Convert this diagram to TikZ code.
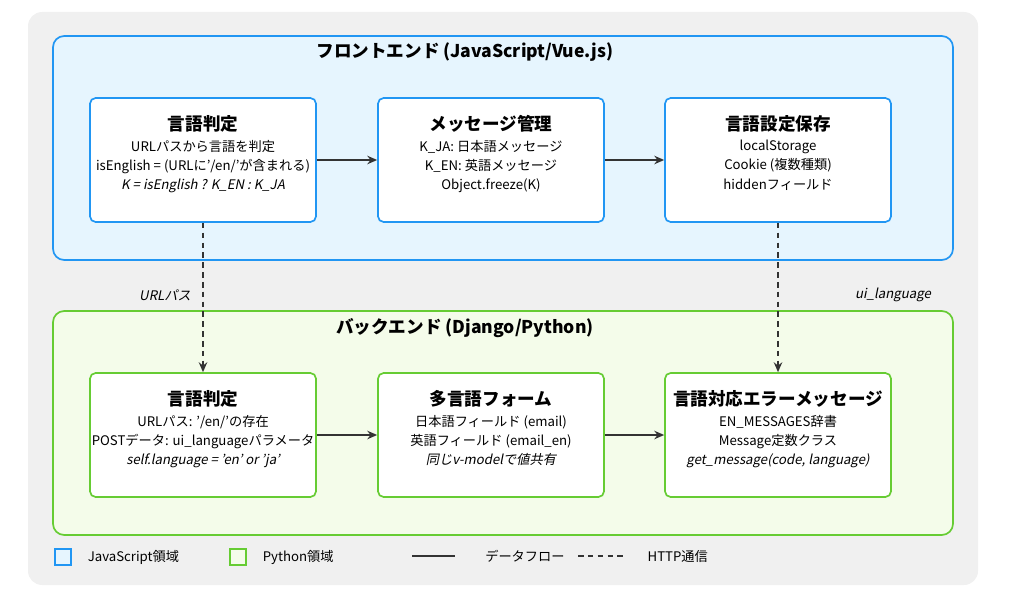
\documentclass[tikz,border=0pt]{standalone}
\usepackage{fontspec}
\setmainfont[AutoFakeSlant=0.2]{Noto Sans CJK JP}
\usetikzlibrary{arrows.meta,positioning}
\definecolor{jsblue}{HTML}{2196F3}
\definecolor{jsfill}{HTML}{E6F5FE}
\definecolor{pygreen}{HTML}{66CC33}
\definecolor{pyfill}{HTML}{F4FCEA}
\definecolor{bg}{HTML}{F0F0F0}
\definecolor{ink}{HTML}{333333}
\tikzset{
  area/.style={draw=#1, line width=1.2pt, rounded corners=8pt},
  box/.style={draw=#1, fill=white, line width=1.2pt, rounded corners=4pt,
    minimum width=226*0.025cm, minimum height=124*0.025cm},
  ttl/.style={font=\bfseries\fontsize{12.5}{14}\selectfont, text=black},
  body/.style={font=\fontsize{9.4}{13.7}\selectfont, align=center, text=black, inner sep=0pt},
  flow/.style={-{Stealth[length=7pt,width=6pt]}, line width=1.4pt, draw=ink},
  http/.style={flow, dash pattern=on 4pt off 3pt},
  lbl/.style={font=\itshape\fontsize{9.4}{11}\selectfont, text=black},
  leg/.style={font=\fontsize{9.4}{11}\selectfont, text=black, anchor=west}
}
\begin{document}
\begin{tikzpicture}[x=0.025cm,y=-0.025cm]
  \useasboundingbox (0,0) rectangle (1030,610);
  \fill[bg, rounded corners=10pt] (28,12) rectangle (978,585);

  % areas
  \filldraw[area=jsblue, fill=jsfill] (53,36) rectangle (953,260);
  \filldraw[area=pygreen, fill=pyfill] (53,311) rectangle (953,535);
  \node[ttl] (fetitle) at (465,52) {フロントエンド (JavaScript/Vue.js)};
  \node[ttl] (betitle) at (465,328) {バックエンド (Django/Python)};

  % frontend
  \node[box=jsblue] (fjudge) at (203,160) {};
  \node[box=jsblue] (fmsg) at (491,160) {};
  \node[box=jsblue] (fsave) at (778,160) {};
  \node[ttl, below=13*0.025cm of fjudge.north] (fjudget) {言語判定};
  \node[body, below=2pt of fjudget] {URLパスから言語を判定\\isEnglish = (URLに'/en/'が含まれる)\\\textit{K = isEnglish ? K\_EN : K\_JA}};
  \node[ttl, below=13*0.025cm of fmsg.north] (fmsgt) {メッセージ管理};
  \node[body, below=2pt of fmsgt] {K\_JA: 日本語メッセージ\\K\_EN: 英語メッセージ\\Object.freeze(K)};
  \node[ttl, below=13*0.025cm of fsave.north] (fsavet) {言語設定保存};
  \node[body, below=2pt of fsavet] {localStorage\\Cookie (複数種類)\\hiddenフィールド};

  % backend
  \node[box=pygreen] (bjudge) at (203,435) {};
  \node[box=pygreen] (bform) at (491,435) {};
  \node[box=pygreen] (berr) at (778,435) {};
  \node[ttl, below=13*0.025cm of bjudge.north] (bjudget) {言語判定};
  \node[body, below=2pt of bjudget] {URLパス: '/en/'の存在\\POSTデータ: ui\_languageパラメータ\\\textit{self.language = 'en' or 'ja'}};
  \node[ttl, below=13*0.025cm of bform.north] (bformt) {多言語フォーム};
  \node[body, below=2pt of bformt] {日本語フィールド (email)\\英語フィールド (email\_en)\\\textit{同じv-modelで値共有}};
  \node[ttl, below=13*0.025cm of berr.north] (berrt) {言語対応エラーメッセージ};
  \node[body, below=2pt of berrt] {EN\_MESSAGES辞書\\Message定数クラス\\\textit{get\_message(code, language)}};

  % connectors
  \draw[flow] (fjudge) -- (fmsg);
  \draw[flow] (fmsg) -- (fsave);
  \draw[flow] (bjudge) -- (bform);
  \draw[flow] (bform) -- (berr);
  \draw[http] (fjudge) -- (bjudge);
  \draw[http] (fsave) -- (berr);
  \node[lbl] (urllbl) at (165,295) {URLパス};
  \node[lbl] (uilbl) at (893,295) {ui\_language};

  % legend
  \node[draw=jsblue, fill=jsfill, line width=0.8pt, minimum size=16*0.025cm, inner sep=0pt] (legjs) at (63,557) {};
  \node[leg, right=8pt of legjs] {JavaScript領域};
  \node[draw=pygreen, fill=pyfill, line width=0.8pt, minimum size=16*0.025cm, inner sep=0pt] (legpy) at (238,557) {};
  \node[leg, right=8pt of legpy] {Python領域};
  \coordinate (sa) at (412,556);
  \coordinate (sb) at (455,556);
  \draw[line width=1.4pt, draw=ink] (sa) -- (sb);
  \node[leg, right=18pt of sb] {データフロー};
  \coordinate (da) at (578,556);
  \coordinate (db) at (623,556);
  \draw[line width=1.4pt, draw=ink, dash pattern=on 4pt off 3pt] (da) -- (db);
  \node[leg, right=14pt of db] {HTTP通信};
\end{tikzpicture}
\end{document}
